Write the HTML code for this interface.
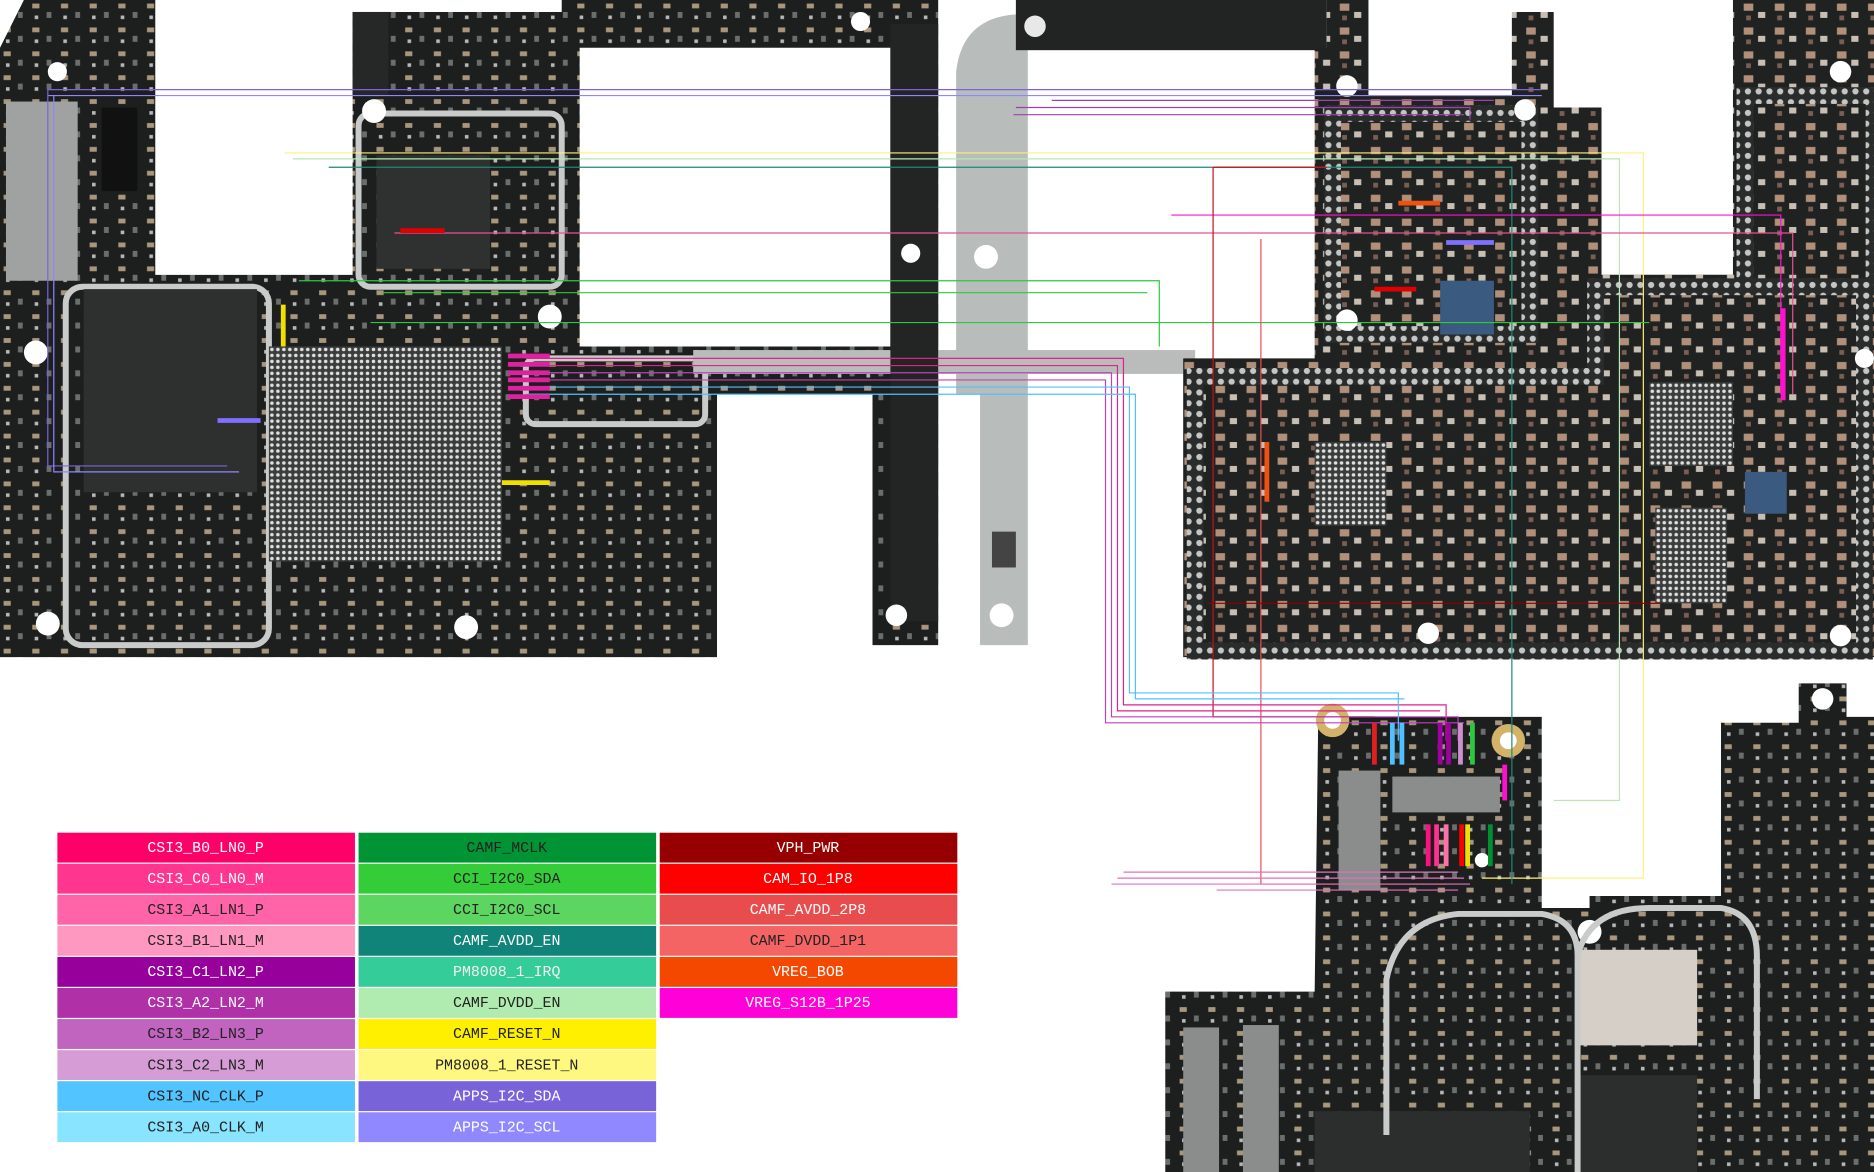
<!DOCTYPE html>
<html><head><meta charset="utf-8"><style>
html,body{margin:0;padding:0;background:#fff;}
svg{display:block}
text{font-family:"Liberation Mono","DejaVu Sans Mono",monospace;font-size:12.5px;text-anchor:middle;}
</style></head><body>
<svg width="1874" height="1172" viewBox="0 0 1568 981" preserveAspectRatio="none" xmlns="http://www.w3.org/2000/svg">
<defs>
<pattern id="bga" width="5" height="5" patternUnits="userSpaceOnUse"><rect width="5" height="5" fill="#3a3d3c"/><circle cx="2.5" cy="2.5" r="1.5" fill="#e0e0e0"/></pattern>
<pattern id="ring" width="9" height="9" patternUnits="userSpaceOnUse"><rect width="9" height="9" fill="#2a2c2b"/><circle cx="4.5" cy="4.5" r="2.6" fill="#c4c6c5"/></pattern>
<pattern id="comp" width="24" height="20" patternUnits="userSpaceOnUse"><rect width="24" height="20" fill="#1d1f1e"/><rect x="3" y="3" width="6" height="4" fill="#a8967e"/><rect x="15" y="10" width="4" height="5" fill="#6a6e6c"/><rect x="5" y="13" width="3" height="3" fill="#b8b8b8"/></pattern>
<pattern id="compr" width="26" height="20" patternUnits="userSpaceOnUse"><rect width="26" height="20" fill="#202221"/><rect x="3" y="3" width="8" height="6" fill="#b0907a"/><rect x="15" y="10" width="6" height="5" fill="#c8bfb4"/><rect x="5" y="13" width="4" height="4" fill="#7a5e52"/></pattern>
</defs>
<rect width="1568" height="981" fill="#fff"/>

<!-- LEFT BOARD -->
<path d="M0,40 L20,0 H130 V230 H295 V10 H470 V0 H785 V540 H730 V330 H600 V550 H0 Z M485,40 H745 V290 H485 Z" fill="url(#comp)" fill-rule="evenodd"/>
<rect x="130" y="0" width="165" height="230" fill="#fff"/>
<rect x="295" y="10" width="30" height="70" fill="#262827"/>
<rect x="600" y="330" width="130" height="220" fill="#fff"/>
<rect x="55" y="240" width="170" height="300" rx="14" fill="none" stroke="#c9cbca" stroke-width="5"/>
<rect x="70" y="242" width="145" height="170" fill="#2e302f"/>
<rect x="225" y="290" width="195" height="180" fill="url(#bga)"/>
<rect x="315" y="130" width="95" height="95" fill="#2f3130"/>
<rect x="300" y="95" width="170" height="145" rx="10" fill="none" stroke="#c9cbca" stroke-width="5"/>
<rect x="5" y="85" width="60" height="150" fill="#9fa2a1"/>
<rect x="85" y="90" width="30" height="70" fill="#111"/>
<rect x="440" y="300" width="150" height="55" rx="8" fill="none" stroke="#c9cbca" stroke-width="5"/>
<rect x="580" y="293" width="420" height="20" fill="#b9bcbb"/>
<rect x="745" y="20" width="40" height="500" fill="#232524"/>
<circle cx="750" cy="515" r="9" fill="#fff"/><circle cx="40" cy="522" r="10" fill="#fff"/><circle cx="390" cy="525" r="10" fill="#fff"/><circle cx="30" cy="295" r="10" fill="#fff"/><circle cx="460" cy="265" r="10" fill="#fff"/><circle cx="313" cy="93" r="10" fill="#fff"/><circle cx="48" cy="60" r="8" fill="#fff"/><circle cx="762" cy="212" r="8" fill="#fff"/><circle cx="720" cy="18" r="8" fill="#fff"/>

<!-- MIDDLE -->
<path d="M800,60 Q805,15 850,12 H1110 V40 H860 V540 H820 V330 H800 Z" fill="#b8bcbb"/>
<rect x="850" y="0" width="260" height="42" fill="#222423"/>
<circle cx="866" cy="22" r="9" fill="#e8e8e8"/><circle cx="825" cy="215" r="10" fill="#fff"/><circle cx="838" cy="515" r="10" fill="#fff"/>
<rect x="830" y="445" width="20" height="30" fill="#444"/>

<!-- RIGHT BOARD -->
<path d="M1100,40 H1110 V0 H1145 V80 H1265 V10 H1300 V90 H1340 V230 H1450 V0 H1568 V550 H990 V300 H1100 Z" fill="url(#compr)"/>
<path d="M1000,315 H1335 V240 H1560 V545 H1000 Z" fill="none" stroke="url(#ring)" stroke-width="14"/>
<rect x="1115" y="95" width="165" height="185" fill="none" stroke="url(#ring)" stroke-width="14"/>
<rect x="1460" y="80" width="108" height="160" fill="none" stroke="url(#ring)" stroke-width="14"/>
<rect x="1100" y="370" width="60" height="70" fill="url(#bga)"/>
<rect x="1380" y="320" width="70" height="70" fill="url(#bga)"/>
<rect x="1385" y="425" width="60" height="80" fill="url(#bga)"/>
<rect x="1205" y="235" width="45" height="45" fill="#3b5a80"/>
<rect x="1460" y="395" width="35" height="35" fill="#3b5a80"/>
<circle cx="1127" cy="72" r="9" fill="#fff"/><circle cx="1276" cy="92" r="9" fill="#fff"/><circle cx="1127" cy="268" r="9" fill="#fff"/><circle cx="1540" cy="60" r="9" fill="#fff"/><circle cx="1195" cy="530" r="9" fill="#fff"/><circle cx="1540" cy="532" r="9" fill="#fff"/><circle cx="1560" cy="300" r="8" fill="#fff"/>

<!-- BOTTOM RIGHT BOARD -->
<path d="M1103,600 H1290 V760 H1330 V750 H1440 V605 H1505 V572 H1545 V600 H1568 V981 H975 V830 H1100 Z" fill="url(#comp)"/>
<circle cx="1115" cy="603" r="14" fill="#d3b36a"/><circle cx="1115" cy="603" r="7" fill="#fff"/>
<circle cx="1262" cy="620" r="14" fill="#d3b36a"/><circle cx="1262" cy="620" r="7" fill="#fff"/>
<circle cx="1525" cy="585" r="9" fill="#fff"/><circle cx="1240" cy="720" r="6" fill="#fff"/><circle cx="1330" cy="780" r="10" fill="#fff"/>
<rect x="1120" y="645" width="35" height="100" fill="#8a8d8c"/>
<rect x="1165" y="650" width="90" height="30" fill="#8a8d8c"/>
<rect x="990" y="860" width="30" height="121" fill="#8a8d8c"/><rect x="1040" y="858" width="30" height="123" fill="#8a8d8c"/>
<rect x="1320" y="795" width="100" height="80" fill="#d5cfc8"/>
<rect x="1320" y="900" width="100" height="81" fill="#2c2e2d"/>
<rect x="1100" y="930" width="180" height="51" fill="#2c2e2d"/>
<path d="M1160,950 V820 Q1170,770 1220,765 H1290 Q1320,770 1320,800 V981" fill="none" stroke="#c9cbca" stroke-width="5"/>
<path d="M1320,800 Q1330,760 1380,760 H1440 Q1470,765 1470,800 V920" fill="none" stroke="#c9cbca" stroke-width="5"/>

<!-- TRACES -->
<g fill="none" stroke-width="1">
<path d="M40,75 H1290" stroke="#7a64d8"/><path d="M40,80 H1290" stroke="#8f86ff"/>
<path d="M40,75 V390 H190" stroke="#7a64d8"/><path d="M45,80 V395 H200" stroke="#8f86ff"/>
<path d="M238,128 H1375 V735 H1240" stroke="#fff07a"/>
<path d="M245,133 H1355 V670 H1300" stroke="#b3eab0"/>
<path d="M275,140 H1265 V740" stroke="#1a8a7a"/>
<path d="M330,195 H1500 V330" stroke="#e85090"/>
<path d="M250,235 H970 V290" stroke="#2ec840"/>
<path d="M320,245 H960" stroke="#2ec840"/>
<path d="M310,270 H1380" stroke="#2ec840"/>
<path d="M980,180 H1490 V330" stroke="#ff10d0"/>
<path d="M1015,140 H1110 M1015,140 V600 H1150" stroke="#c8101a"/>
<path d="M1055,200 V740 H1210" stroke="#e85050"/>
<path d="M1010,505 H1390" stroke="#8a0000"/>
<g stroke="#e0208c">
<path d="M440,300 H940 V590 H1210 V620"/><path d="M440,306 H935 V595 H1205"/></g>
<g stroke="#c040c0">
<path d="M440,312 H930 V600 H1220 V620"/><path d="M440,318 H925 V605 H1225"/></g>
<g stroke="#50c0ff">
<path d="M440,324 H945 V580 H1170 V620"/><path d="M440,330 H950 V585 H1175"/></g>
<g stroke="#a040b0">
<path d="M850,90 H1230 V100"/><path d="M848,96 H1225"/><path d="M880,84 H1250"/></g>
<g stroke="#e070c0">
<path d="M930,740 H1230"/><path d="M935,735 H1225"/><path d="M940,730 H1220"/><path d="M1018,745 H1220"/></g>
</g>
<g stroke-width="4">
<path d="M1165,605 V640" stroke="#50c0ff"/><path d="M1173,605 V640" stroke="#50c0ff"/>
<path d="M1205,605 V640" stroke="#a000a0"/><path d="M1212,605 V640" stroke="#a000a0"/><path d="M1222,605 V640" stroke="#d090d0"/>
<path d="M1232,605 V640" stroke="#2ec840"/><path d="M1150,605 V640" stroke="#e02020"/>
<path d="M1195,690 V725" stroke="#ff1080"/><path d="M1202,690 V725" stroke="#ff3090"/><path d="M1210,690 V725" stroke="#ff70a8"/>
<path d="M1223,690 V725" stroke="#ff0000"/><path d="M1228,690 V725" stroke="#f0e000"/><path d="M1247,690 V725" stroke="#009030"/>
<path d="M1259,640 V670" stroke="#ff10d0"/>
<path d="M425,298 H460 M425,305 H460 M425,312 H460 M425,318 H460 M425,325 H460 M425,332 H460" stroke="#e020a0"/>
<path d="M335,193 H372" stroke="#e00000"/><path d="M1150,242 H1185" stroke="#e00000"/><path d="M1170,170 H1205" stroke="#f05010"/>
<path d="M1210,203 H1250" stroke="#8070ff"/><path d="M420,404 H460" stroke="#f0e000"/>
<path d="M182,352 H218" stroke="#8070ff"/><path d="M237,255 V290" stroke="#f0e000"/>
<path d="M1492,258 V335" stroke="#ff10d0"/><path d="M1060,370 V420" stroke="#f05010"/>
</g>

<!-- LEGEND -->
<g>
<rect x="48" y="697" width="249" height="25" fill="#ff0068"/><text x="172" y="713" fill="#fff">CSI3_B0_LN0_P</text>
<rect x="48" y="723" width="249" height="25" fill="#ff3690"/><text x="172" y="739" fill="#fff">CSI3_C0_LN0_M</text>
<rect x="48" y="749" width="249" height="25" fill="#ff64a8"/><text x="172" y="765" fill="#222">CSI3_A1_LN1_P</text>
<rect x="48" y="775" width="249" height="25" fill="#ff98c0"/><text x="172" y="791" fill="#222">CSI3_B1_LN1_M</text>
<rect x="48" y="801" width="249" height="25" fill="#98009c"/><text x="172" y="817" fill="#fff">CSI3_C1_LN2_P</text>
<rect x="48" y="827" width="249" height="25" fill="#b030a8"/><text x="172" y="843" fill="#fff">CSI3_A2_LN2_M</text>
<rect x="48" y="853" width="249" height="25" fill="#c064c0"/><text x="172" y="869" fill="#222">CSI3_B2_LN3_P</text>
<rect x="48" y="879" width="249" height="25" fill="#d69cd6"/><text x="172" y="895" fill="#222">CSI3_C2_LN3_M</text>
<rect x="48" y="905" width="249" height="25" fill="#52c4ff"/><text x="172" y="921" fill="#222">CSI3_NC_CLK_P</text>
<rect x="48" y="931" width="249" height="25" fill="#88e4ff"/><text x="172" y="947" fill="#222">CSI3_A0_CLK_M</text>

<rect x="300" y="697" width="249" height="25" fill="#009434"/><text x="424" y="713" fill="#222">CAMF_MCLK</text>
<rect x="300" y="723" width="249" height="25" fill="#34cc38"/><text x="424" y="739" fill="#222">CCI_I2C0_SDA</text>
<rect x="300" y="749" width="249" height="25" fill="#5cd660"/><text x="424" y="765" fill="#222">CCI_I2C0_SCL</text>
<rect x="300" y="775" width="249" height="25" fill="#108478"/><text x="424" y="791" fill="#fff">CAMF_AVDD_EN</text>
<rect x="300" y="801" width="249" height="25" fill="#34cc98"/><text x="424" y="817" fill="#f0f0f0">PM8008_1_IRQ</text>
<rect x="300" y="827" width="249" height="25" fill="#b0ecb0"/><text x="424" y="843" fill="#222">CAMF_DVDD_EN</text>
<rect x="300" y="853" width="249" height="25" fill="#fff000"/><text x="424" y="869" fill="#222">CAMF_RESET_N</text>
<rect x="300" y="879" width="249" height="25" fill="#fff880"/><text x="424" y="895" fill="#222">PM8008_1_RESET_N</text>
<rect x="300" y="905" width="249" height="25" fill="#7864d8"/><text x="424" y="921" fill="#fff">APPS_I2C_SDA</text>
<rect x="300" y="931" width="249" height="25" fill="#8f88ff"/><text x="424" y="947" fill="#fff">APPS_I2C_SCL</text>

<rect x="552" y="697" width="249" height="25" fill="#960000"/><text x="676" y="713" fill="#fff">VPH_PWR</text>
<rect x="552" y="723" width="249" height="25" fill="#ff0000"/><text x="676" y="739" fill="#fff">CAM_IO_1P8</text>
<rect x="552" y="749" width="249" height="25" fill="#e84c4c"/><text x="676" y="765" fill="#fff">CAMF_AVDD_2P8</text>
<rect x="552" y="775" width="249" height="25" fill="#f46464"/><text x="676" y="791" fill="#222">CAMF_DVDD_1P1</text>
<rect x="552" y="801" width="249" height="25" fill="#f44800"/><text x="676" y="817" fill="#fff">VREG_BOB</text>
<rect x="552" y="827" width="249" height="25" fill="#ff00d8"/><text x="676" y="843" fill="#fff">VREG_S12B_1P25</text>
</g>
</svg>
</body></html>
